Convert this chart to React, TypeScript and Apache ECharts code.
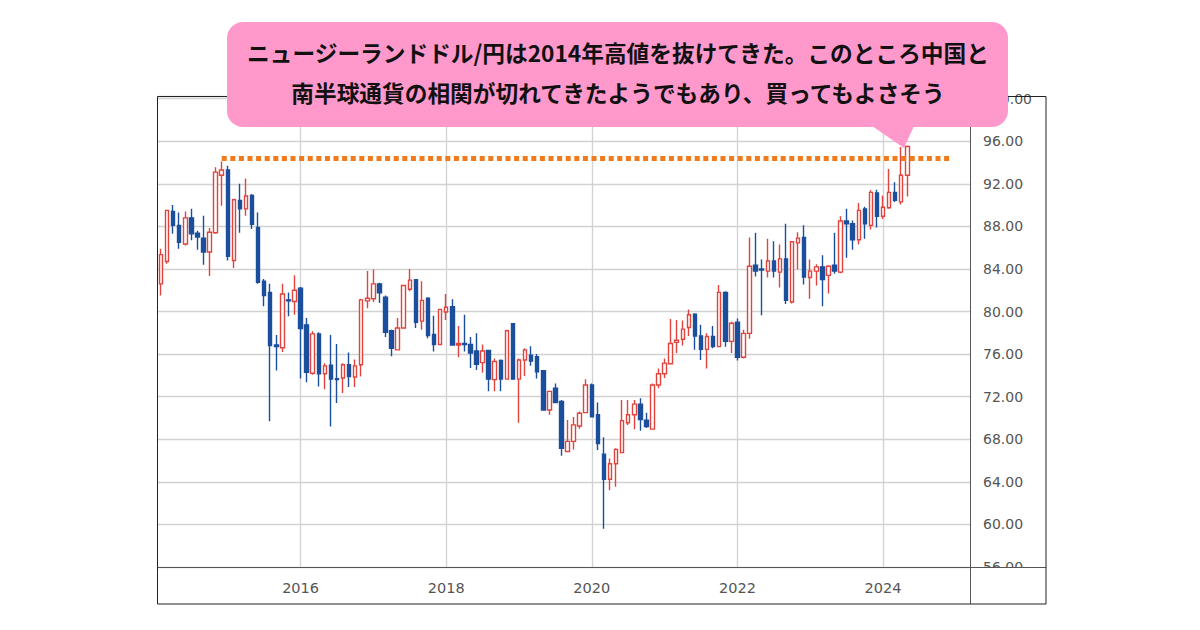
import React, { useEffect, useRef } from "react";
import * as echarts from "echarts";

// ---- categories: monthly candles from Feb 2014, axis runs on to Mar 2025 ----
const START_YEAR = 2014;
const START_MONTH = 2;
const CATEGORY_COUNT = 134;
const months: string[] = Array.from({ length: CATEGORY_COUNT }, (_, i) => {
  const m = START_MONTH - 1 + i;
  const y = START_YEAR + Math.floor(m / 12);
  return `${y}-${String((m % 12) + 1).padStart(2, "0")}`;
});

// ---- OHLC values (Feb 2014 .. May 2024) ----
const opens = [
  82.6, 84.7, 89.4, 88.1, 86.35, 88.8, 87.35, 86.9, 85.6, 87.4, 92.8,
  93.3, 84.8, 90.43, 89.65, 90.9, 87.9, 82.85, 81.8, 76.85, 76.6, 81.1, 80.95,
  82.2, 78.75, 74.2, 77.9, 74.15, 74.95, 73.7, 73.75, 75.0, 73.85, 75.0, 81.0,
  81.2, 82.6, 81.35, 78.2, 76.4, 78.45, 82.1, 83.0, 79.1, 81.25, 77.85, 76.9,
  79.95, 80.45, 76.85, 77.0, 76.9, 76.3, 75.2, 76.35, 73.6, 75.4, 73.65, 78.85,
  73.65, 75.45, 75.9, 75.75, 74.45, 70.75, 72.8, 71.55, 66.85, 67.8, 69.25, 70.5,
  73.1, 70.3, 66.6, 64.25, 65.7, 66.75, 69.55, 70.3, 71.3, 69.8, 68.95, 73.1,
  74.15, 75.1, 77.1, 77.4, 78.5, 79.75, 77.7, 76.45, 77.65, 76.7, 81.8, 77.2,
  79.0, 75.7, 77.95, 84.35, 84.0, 83.8, 84.75, 83.7, 84.95, 80.9, 86.45, 86.95,
  83.2, 83.8, 84.2, 83.4, 84.35, 83.7, 88.5, 88.25, 86.75, 89.65, 88.1, 91.15,
  88.95, 89.75, 91.2, 90.3, 92.8,
];
const closes = [
  85.35, 89.5, 88.1, 86.5, 88.8, 87.3, 87.0, 85.6, 87.45, 93.1, 93.3,
  85.2, 90.5, 89.65, 90.85, 88.2, 82.75, 81.5, 76.8, 76.7, 81.65, 81.0, 82.0,
  78.4, 74.3, 77.9, 74.15, 74.9, 73.65, 73.6, 75.0, 73.9, 74.9, 81.1, 81.25,
  82.6, 81.75, 78.05, 76.55, 78.45, 82.45, 82.95, 79.0, 81.05, 77.75, 76.9, 80.2,
  80.4, 76.85, 77.0, 76.9, 76.1, 75.05, 76.3, 73.65, 75.3, 73.65, 78.2, 73.65,
  75.45, 76.4, 75.35, 74.35, 70.75, 72.5, 71.45, 67.15, 67.8, 69.35, 70.45, 73.1,
  70.1, 67.6, 64.25, 65.7, 67.05, 69.75, 70.3, 71.3, 69.85, 69.2, 73.1, 74.15,
  75.15, 77.0, 77.3, 78.35, 79.7, 77.7, 76.45, 77.65, 76.7, 81.8, 77.2, 78.9,
  75.7, 77.95, 84.25, 83.8, 83.9, 84.75, 83.8, 84.95, 81.05, 86.55, 86.9, 83.25,
  83.8, 84.2, 83.0, 84.25, 83.8, 88.5, 88.25, 86.75, 89.5, 88.25, 91.2, 88.95,
  89.8, 91.2, 90.45, 92.8, 95.5,
];
const lows = [
  81.5, 84.5, 87.3, 85.9, 86.2, 86.7, 85.8, 84.4, 83.35, 87.3, 89.95,
  84.8, 84.1, 87.4, 89.0, 87.75, 82.6, 80.5, 69.7, 74.45, 76.2, 79.55, 79.7,
  73.7, 73.35, 74.05, 72.95, 72.7, 69.2, 71.4, 72.35, 72.9, 72.9, 73.9, 80.3,
  80.9, 80.8, 77.6, 75.8, 76.35, 78.4, 81.9, 78.45, 78.3, 77.5, 76.25, 76.85,
  79.2, 76.8, 75.7, 76.25, 74.7, 74.5, 74.25, 72.5, 72.5, 72.5, 73.6, 73.6,
  69.55, 73.95, 74.9, 73.7, 70.7, 70.3, 71.4, 66.45, 66.8, 67.05, 69.0, 70.45,
  70.05, 67.0, 59.6, 63.2, 63.55, 66.7, 69.35, 68.95, 68.8, 69.05, 68.9, 72.8,
  73.75, 75.05, 76.1, 76.8, 77.7, 76.4, 75.45, 74.65, 76.55, 76.65, 76.7, 76.1,
  75.4, 75.6, 77.45, 83.3, 79.65, 83.2, 83.2, 82.25, 80.7, 80.75, 83.95, 82.55,
  81.2, 82.45, 80.5, 81.7, 83.55, 83.6, 85.05, 85.8, 86.3, 86.85, 87.7, 87.9,
  88.7, 89.65, 90.3, 90.05, 90.8,
];
const highs = [
  85.9, 89.55, 90.0, 89.3, 89.4, 89.65, 87.6, 89.0, 87.85, 93.55, 94.1,
  93.7, 90.6, 92.0, 92.5, 91.05, 89.3, 83.05, 82.6, 77.8, 82.6, 81.8, 83.4,
  82.3, 79.4, 78.15, 78.05, 75.15, 77.8, 76.95, 75.15, 76.15, 75.5, 81.2, 83.8,
  83.95, 82.7, 81.5, 78.3, 79.4, 82.5, 84.0, 83.05, 82.85, 81.35, 79.6, 80.25,
  81.65, 81.15, 78.65, 79.7, 77.6, 77.95, 76.9, 76.4, 75.6, 75.5, 78.3, 78.9,
  75.6, 76.55, 76.75, 76.0, 74.5, 72.55, 73.25, 71.7, 69.8, 70.1, 70.6, 73.65,
  73.25, 71.45, 68.2, 66.2, 67.15, 71.7, 71.7, 71.7, 71.85, 70.5, 73.25, 74.65,
  75.6, 79.3, 79.2, 79.15, 80.2, 79.85, 78.75, 77.95, 78.65, 82.5, 81.9, 79.05,
  79.35, 78.3, 86.95, 87.4, 84.9, 86.85, 86.6, 86.3, 88.25, 86.6, 87.45, 88.1,
  84.9, 84.45, 85.3, 84.35, 87.4, 88.95, 89.65, 88.55, 90.2, 89.85, 91.4, 91.45,
  90.9, 93.4, 92.15, 95.45, 95.6,
];

// ---- axis / annotation values ----
const Y_MIN = 56;
const Y_MAX = 100.25;
const Y_STEP = 4;
const RESISTANCE = 94.4;
const RESISTANCE_FROM = "2014-12";
const RESISTANCE_TO = "2024-12";
const CALLOUT_LINES = [
  "ニュージーランドドル/円は2014年高値を抜けてきた。このところ中国と",
  "南半球通貨の相関が切れてきたようでもあり、買ってもよさそう",
];

const isYearTick = (v: string) =>
  v.endsWith("-01") && Number(v.slice(0, 4)) % 2 === 0;

export default function App() {
  const ref = useRef<HTMLDivElement>(null);

  useEffect(() => {
    if (!ref.current) return;
    const chart = echarts.init(ref.current, undefined, { renderer: "svg" });
    const ohlc = opens.map((o, i) => [o, closes[i], lows[i], highs[i]]);

    const calloutText = (text: string, y: number) => ({
      type: "text",
      z: 111,
      x: 618,
      y,
      style: {
        text,
        align: "center",
        verticalAlign: "middle",
        fontSize: 22.7,
        fontWeight: "bold",
        fontFamily: "Noto Sans CJK JP",
        fill: "#111111",
      },
    });

    chart.setOption({
      animation: false,
      backgroundColor: "#ffffff",
      grid: { left: 158, right: 229, top: 96, bottom: 63, containLabel: false },
      xAxis: {
        type: "category",
        data: months,
        boundaryGap: true,
        axisLine: { show: false },
        axisTick: { show: false },
        axisLabel: {
          interval: (_i: number, v: string) => isYearTick(v),
          formatter: (v: string) => v.slice(0, 4),
          color: "#555555",
          fontSize: 14.5,
          fontFamily: "DejaVu Sans",
          margin: 13,
        },
        splitLine: {
          show: true,
          interval: (_i: number, v: string) => isYearTick(v),
          alignWithLabel: true,
          lineStyle: { color: "#d2d2d2", width: 1.3 },
        },
      },
      yAxis: {
        type: "value",
        position: "right",
        min: Y_MIN,
        max: Y_MAX,
        interval: Y_STEP,
        axisLine: { show: false },
        axisTick: { show: false },
        axisLabel: {
          formatter: (v: number) => v.toFixed(2),
          color: "#555555",
          fontSize: 14,
          fontFamily: "DejaVu Sans",
          margin: 12,
          showMaxLabel: false,
        },
        splitLine: { lineStyle: { color: "#d2d2d2", width: 1.3 } },
      },
      series: [
        {
          type: "candlestick",
          data: ohlc,
          barWidth: 4,
          itemStyle: {
            color: "#ffffff",
            color0: "#1b4f9c",
            borderColor: "#e0443c",
            borderColor0: "#1b4f9c",
            borderWidth: 1.4,
          },
          markLine: {
            silent: true,
            symbol: "none",
            label: { show: false },
            lineStyle: { color: "#f07a1c", width: 5, type: [5, 3.6], cap: "butt" },
            data: [
              [
                { coord: [RESISTANCE_FROM, RESISTANCE] },
                { coord: [RESISTANCE_TO, RESISTANCE] },
              ],
            ],
          },
        },
      ],
      graphic: [
        {
          type: "rect",
          z: 100,
          shape: { x: 971, y: 568, width: 74.5, height: 35.5 },
          style: { fill: "#ffffff" },
        },
        {
          type: "line",
          z: 101,
          shape: { x1: 970.5, y1: 96, x2: 970.5, y2: 604 },
          style: { stroke: "#555555", lineWidth: 1 },
        },
        {
          type: "line",
          z: 101,
          shape: { x1: 157, y1: 567.5, x2: 1046, y2: 567.5 },
          style: { stroke: "#555555", lineWidth: 1 },
        },
        {
          type: "rect",
          z: 102,
          shape: { x: 157.5, y: 96.5, width: 888.5, height: 507.5 },
          style: { fill: "none", stroke: "#222222", lineWidth: 1 },
        },
        {
          type: "group",
          z: 110,
          children: [
            {
              type: "rect",
              z: 110,
              shape: { x: 227, y: 22, width: 781, height: 105, r: 16 },
              style: { fill: "#ff99cc" },
            },
            {
              type: "polygon",
              z: 110,
              shape: { points: [[872, 126], [914, 126], [904, 148]] },
              style: { fill: "#ff99cc" },
            },
            calloutText(CALLOUT_LINES[0], 52),
            calloutText(CALLOUT_LINES[1], 92),
          ],
        },
      ],
    });

    return () => chart.dispose();
  }, []);

  return (
    <div
      ref={ref}
      style={{ position: "fixed", left: 0, top: 0, width: 1200, height: 630 }}
    />
  );
}
